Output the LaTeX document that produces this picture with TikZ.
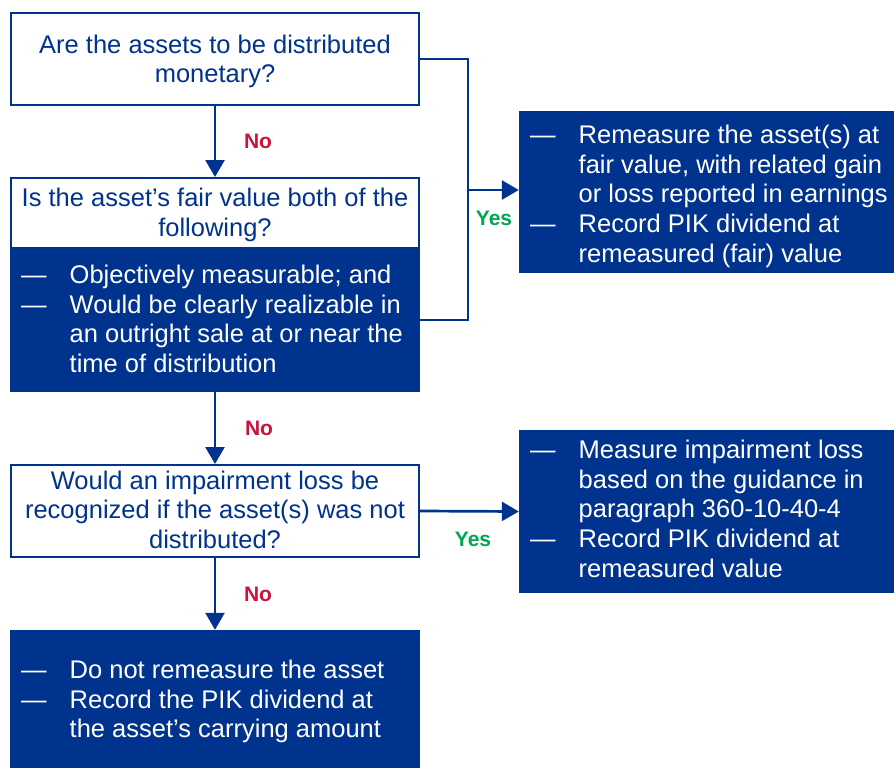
\documentclass[tikz,border=0pt]{standalone}
\usepackage{fontspec}
\setmainfont{Liberation Sans}
\usetikzlibrary{arrows.meta}
\definecolor{kblue}{HTML}{00338D}
\definecolor{nored}{HTML}{C8143C}
\definecolor{yesgreen}{HTML}{00A650}

% question text, centred lines; first baseline is the node's base
\newcommand{\qlines}[1]{\begin{tabular}[t]{@{}c@{}}#1\end{tabular}}
% dash list; first baseline is the node's base
\newcommand{\dlines}[1]{\begin{tabular}[t]{@{}p{48.5pt}@{}l@{}}#1\end{tabular}}

\begin{document}
\begin{tikzpicture}[x=1pt,y=-1pt,
  font=\fontsize{25.5}{29.7}\selectfont,
  qbox/.style={draw=kblue, line width=2pt, fill=white, inner sep=0pt},
  abox/.style={fill=kblue, draw=none, inner sep=0pt},
  qtext/.style={text=kblue, anchor=base, inner sep=0pt},
  atext/.style={text=white, anchor=base west, inner sep=0pt},
  wire/.style={draw=kblue, line width=2.7pt},
  flow/.style={wire, -{Triangle[width=19pt,length=17pt]}},
  lab/.style={font=\fontsize{21}{24}\selectfont\bfseries, inner sep=0pt},
  nolab/.style={lab, text=nored},
  yeslab/.style={lab, text=yesgreen}
]
\useasboundingbox (0,0) rectangle (894,768);

% left column
\node[qbox, minimum width=408pt, minimum height=92pt] (q1) at (215,59) {};
\node[qtext] (q1t) at (215,53) {\qlines{Are the assets to be distributed\\monetary?}};

\node[qbox, minimum width=408pt, minimum height=70pt] (q2) at (215,213) {};
\node[qtext] (q2t) at (215,206.5) {\qlines{Is the asset’s fair value both of the\\following?}};
\node[abox, minimum width=410pt, minimum height=144pt] (a1) at (215,320) {};
\node[atext] (a1t) at (21,283.5) {\dlines{—&Objectively measurable; and\\—&Would be clearly realizable in\\&an outright sale at or near the\\&time of distribution}};

\node[qbox, minimum width=408pt, minimum height=92pt] (q3) at (215,511) {};
\node[qtext] (q3t) at (215,489) {\qlines{Would an impairment loss be\\recognized if the asset(s) was not\\distributed?}};

\node[abox, minimum width=410pt, minimum height=138pt] (t1) at (215,699) {};
\node[atext] (t1t) at (21,678.5) {\dlines{—&Do not remeasure the asset\\—&Record the PIK dividend at\\&the asset’s carrying amount}};

% right column
\node[abox, minimum width=375pt, minimum height=162pt] (r1) at (706.5,192) {};
\node[atext] (r1t) at (530,143.5) {\dlines{—&Remeasure the asset(s) at\\&fair value, with related gain\\&or loss reported in earnings\\—&Record PIK dividend at\\&remeasured (fair) value}};

\node[abox, minimum width=375pt, minimum height=163pt] (r2) at (706.5,511.5) {};
\node[atext] (r2t) at (530,458.5) {\dlines{—&Measure impairment loss\\&based on the guidance in\\&paragraph 360-10-40-4\\—&Record PIK dividend at\\&remeasured value}};

% connectors
\coordinate (jn) at (468,320);
\coordinate (ys) at (468,190);
\draw[wire] (q1.east) -| (jn) -- (a1.east);
\draw[flow] (ys) -- (r1.west |- ys);
\draw[flow] (q1.south) -- (q2.north);
\draw[flow] (a1.south) -- (q3.north);
\draw[flow] (q3.east) -- (r2.west);
\draw[flow] (q3.south) -- (t1.north);

% branch labels
\node[nolab] (no1) at (258,141) {No};
\node[nolab] (no2) at (259,428) {No};
\node[nolab] (no3) at (258,594) {No};
\node[yeslab] (yes1) at (494,218) {Yes};
\node[yeslab] (yes2) at (473,539) {Yes};
\end{tikzpicture}
\end{document}
